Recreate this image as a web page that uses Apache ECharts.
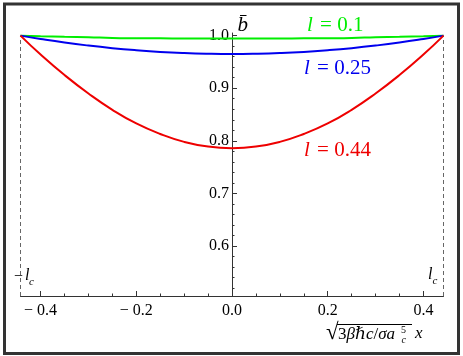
<!DOCTYPE html>
<html>
<head>
<meta charset="utf-8">
<script src="https://cdn.jsdelivr.net/npm/echarts@6/dist/echarts.min.js"></script>
<style>
html, body { margin: 0; padding: 0; background: #fff; }
#main { width: 463px; height: 356px; }
</style>
</head>
<body>
<div id="main"></div>
<script>
// 横轴范围 ±l_c
const lc = 0.442
const xs = [-0.442, -0.4, -0.35, -0.3, -0.25, -0.2, -0.15, -0.1, -0.05, 0, 0.05, 0.1, 0.15, 0.2, 0.25, 0.3, 0.35, 0.4, 0.442]
// 三条曲线
const bGreen = [1.0, 0.999, 0.998, 0.997, 0.9956, 0.9951, 0.9948, 0.9946, 0.9945, 0.9945, 0.9945, 0.9946, 0.9948, 0.9951, 0.9956, 0.997, 0.998, 0.999, 1.0]
const bBlue = [1.0, 0.9937, 0.9869, 0.9811, 0.9762, 0.9722, 0.969, 0.9668, 0.9655, 0.965, 0.9655, 0.9668, 0.969, 0.9722, 0.9762, 0.9811, 0.9869, 0.9937, 1.0]
const bRed = [1.0, 0.964, 0.925, 0.89, 0.859, 0.833, 0.813, 0.798, 0.789, 0.786, 0.789, 0.798, 0.813, 0.833, 0.859, 0.89, 0.925, 0.964, 1.0]
const curveNames = ['0.1', '0.25', '0.44']
// 刻度
const xMajor = [-0.4, -0.2, 0, 0.2, 0.4]
const xTickLabels = ['\u2212 0.4', '\u2212 0.2', '0.0', '0.2', '0.4']
const xMinor = [-0.35, -0.3, -0.25, -0.15, -0.1, -0.05, 0.05, 0.1, 0.15, 0.25, 0.3, 0.35]
const yMajor = [0.6, 0.7, 0.8, 0.9, 1.0]
const yTickLabels = ['0.6', '0.7', '0.8', '0.9', '1.0']
const yMinor = [0.52, 0.54, 0.56, 0.58, 0.62, 0.64, 0.66, 0.68, 0.72, 0.74, 0.76, 0.78,
  0.82, 0.84, 0.86, 0.88, 0.92, 0.94, 0.96, 0.98]

const colors = ['#00ee00', '#0000ee', '#ee0000']
const serif = 'Liberation Serif, DejaVu Serif, serif'

function pick(vals, labels) {
  return function (v) {
    let i = vals.findIndex(t => Math.abs(t - v) < 1e-6)
    return i >= 0 ? labels[i] : ''
  }
}

let myChart = echarts.init(document.getElementById('main'))

let gridLeft = 20.5, gridRight = 19.5
// 纵轴放在 x=0 处 (向网格内偏移)
let yOffset = -((463 - gridLeft - gridRight) * lc / (2 * lc))

let axisLineStyle = { color: '#333', width: 1 }
let majorAxisX = {
  type: 'value', min: -lc, max: lc, position: 'bottom',
  axisLine: { show: true, onZero: false, lineStyle: axisLineStyle },
  axisTick: { show: true, inside: true, length: 5, customValues: xMajor, lineStyle: axisLineStyle },
  axisLabel: { customValues: xMajor, formatter: pick(xMajor, xTickLabels), color: '#000', fontFamily: serif, fontSize: 16, margin: 7 },
  splitLine: { show: false }
}
let minorAxisX = {
  type: 'value', min: -lc, max: lc, position: 'bottom',
  axisLine: { show: false, onZero: false },
  axisTick: { show: true, inside: true, length: 2.5, customValues: xMinor, lineStyle: axisLineStyle },
  axisLabel: { show: false },
  splitLine: { show: false }
}
let majorAxisY = {
  type: 'value', min: 0.505, max: 1.005, position: 'left', offset: yOffset,
  axisLine: { show: true, onZero: false, lineStyle: axisLineStyle },
  axisTick: { show: true, inside: true, length: 5, customValues: yMajor, lineStyle: axisLineStyle },
  axisLabel: { customValues: yMajor, formatter: pick(yMajor, yTickLabels), color: '#000', fontFamily: serif, fontSize: 16, margin: 3 },
  splitLine: { show: false }
}
let minorAxisY = {
  type: 'value', min: 0.505, max: 1.005, position: 'left', offset: yOffset,
  axisLine: { show: false, onZero: false },
  axisTick: { show: true, inside: true, length: 2.5, customValues: yMinor, lineStyle: axisLineStyle },
  axisLabel: { show: false },
  splitLine: { show: false }
}

let series = [bGreen, bBlue, bRed].map((vals, k) => ({
  name: curveNames[k],
  type: 'line',
  data: xs.map((x, i) => [x, vals[i]]),
  smooth: true,
  symbol: 'none',
  lineStyle: { color: colors[k], width: 2 },
  z: 3 + k
}))
// ±l_c 处的虚线
series[0].markLine = {
  silent: true, symbol: 'none', label: { show: false },
  lineStyle: { color: '#666', width: 1, type: [4, 3] },
  data: [
    [{ coord: [-lc, 0.505] }, { coord: [-lc, 1.0] }],
    [{ coord: [lc, 0.505] }, { coord: [lc, 1.0] }]
  ]
}

function txt(x, y, text, size, extra) {
  return {
    type: 'text', x: x, y: y, z: 10,
    style: Object.assign({ text: text, fontFamily: serif, fontSize: size, fill: '#000', verticalAlign: 'middle' }, extra || {})
  }
}
function curveLabel(x, y, k) {
  return txt(x, y, '{i|l} = ' + curveNames[k], 21, {
    fill: colors[k],
    rich: { i: { fontStyle: 'italic', fontFamily: serif, fontSize: 21, fill: colors[k], padding: [0, 2, 0, 0] } }
  })
}

let options = {
  animation: false,
  backgroundColor: '#fff',
  grid: { left: gridLeft, right: gridRight, top: 33, bottom: 60 },
  xAxis: [majorAxisX, minorAxisX],
  yAxis: [majorAxisY, minorAxisY],
  series: series,
  graphic: [
    // 外框
    { type: 'rect', z: 20, shape: { x: 4.5, y: 4, width: 454, height: 349.5 }, style: { fill: 'none', stroke: '#333', lineWidth: 3 } },
    // 纵轴名 b̄
    txt(237.5, 25, 'b', 21, { fontStyle: 'italic' }),
    { type: 'line', z: 10, shape: { x1: 240, y1: 15.5, x2: 246.5, y2: 15.5 }, style: { stroke: '#000', lineWidth: 1 } },
    // 曲线标注
    curveLabel(307, 25, 0),
    curveLabel(304, 68, 1),
    curveLabel(304, 150, 2),
    // -l_c 和 l_c
    txt(14, 276.5, '\u2212', 16),
    txt(25, 276, 'l', 16, { fontStyle: 'italic' }),
    txt(29, 282, 'c', 11, { fontStyle: 'italic' }),
    txt(428, 274.5, 'l', 16, { fontStyle: 'italic' }),
    txt(432.5, 281, 'c', 11, { fontStyle: 'italic' }),
    // 横轴名 sqrt(3βℏc/σa_c^5) x
    txt(326, 333, '\u221A', 23),
    { type: 'line', z: 10, shape: { x1: 337, y1: 324.5, x2: 412, y2: 324.5 }, style: { stroke: '#000', lineWidth: 1 } },
    txt(338, 335, '3{i|\u03B2\u210Fc}/{i|\u03C3a}', 17, { rich: { i: { fontStyle: 'italic', fontFamily: serif, fontSize: 17 } } }),
    txt(401, 330, '5', 10),
    txt(401.5, 340, 'c', 10, { fontStyle: 'italic' }),
    txt(415, 334, 'x', 17, { fontStyle: 'italic' })
  ]
}
myChart.setOption(options)
</script>
</body>
</html>
